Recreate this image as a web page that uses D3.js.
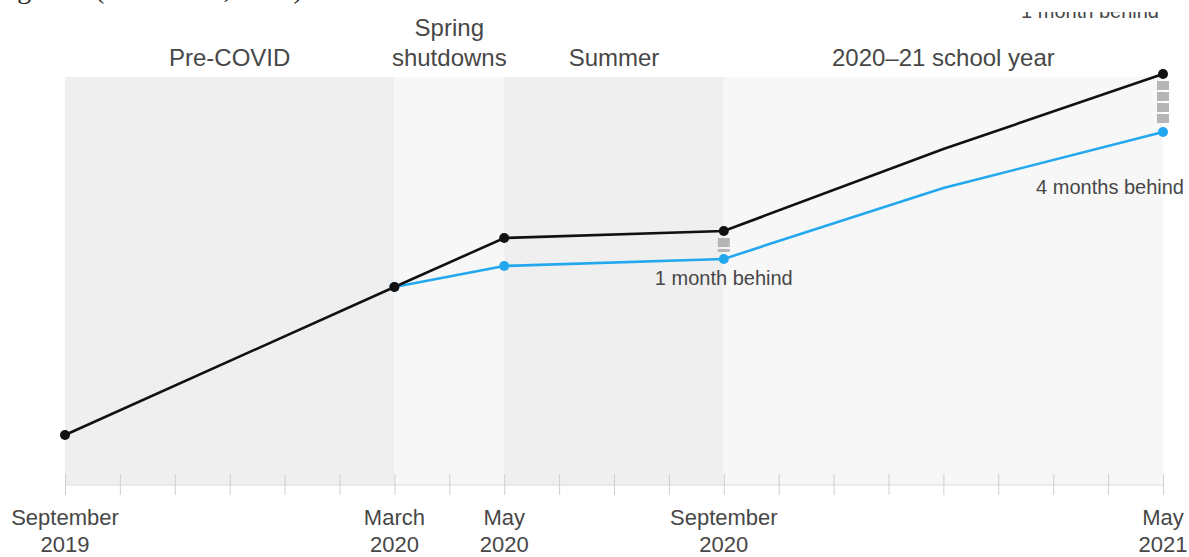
<!DOCTYPE html>
<html>
<head>
<meta charset="utf-8">
<script src="https://cdn.jsdelivr.net/npm/d3@7"></script>
<style>
  body { margin: 0; background: #fff; }
  svg { display: block; }
  text { font-family: "Liberation Sans", Arial, sans-serif; fill: #474747; }
</style>
</head>
<body>
<div class="chart"></div>
<script>
// months counted from September 2019 (0) to May 2021 (20)
const tickMonths = [0, 1, 2, 3, 4, 5, 6, 7, 8, 9, 10, 11, 12, 13, 14, 15, 16, 17, 18, 19, 20];
const labelMonths = [0, 6, 8, 12, 20];
const labelLines = [["September", "2019"], ["March", "2020"], ["May", "2020"], ["September", "2020"], ["May", "2021"]];

const periodNames = [["Pre-COVID"], ["Spring", "shutdowns"], ["Summer"], ["2020\u201321 school year"]];
const periodStart = [0, 6, 8, 12];
const periodEnd = [6, 8, 12, 20];

// achievement level (arbitrary units)
const baseMonths = [0, 6, 8, 12, 16, 20];
const baseValues = [50, 198, 247, 254, 336, 411];
const baseDots = [0, 6, 8, 12, 20];

const covidMonths = [6, 8, 12, 13, 16, 20];
const covidValues = [198, 219, 226, 244, 297, 353];
const covidDots = [6, 8, 12, 20];

const gapMonths = [12, 20];
const gapLabels = ["1 month behind", "4 months behind"];

const w = 1189, h = 557;
const x = d3.scaleLinear().domain([0, 20]).range([65, 1163]);
const y = d3.scaleLinear().domain([0, 420]).range([485, 65]);

const svg = d3.select('.chart').append('svg')
    .attr('width', w)
    .attr('height', h);

// caption cut off at the very top of the picture, only descenders show
svg.append('clipPath').attr('id', 'capcut')
    .append('rect').attr('x', 0).attr('y', 0).attr('width', 400).attr('height', 12);
svg.append('text')
    .attr('clip-path', 'url(#capcut)')
    .attr('x', -6).attr('y', -2)
    .style('font-family', '"Liberation Serif", "Times New Roman", serif')
    .style('font-size', '28px')
    .style('fill', '#222')
    .text('Figure 1 (Dorn et al., 2021)');

svg.append('clipPath').attr('id', 'topcut')
    .append('rect').attr('x', 900).attr('y', 12).attr('width', 289).attr('height', 10);
svg.append('text')
    .attr('clip-path', 'url(#topcut)')
    .attr('x', 1159).attr('y', 18)
    .attr('text-anchor', 'end')
    .style('font-size', '20px')
    .text('1 month behind');

// period bands
const bandColors = ['#efefef', '#f7f7f7', '#efefef', '#f7f7f7'];
svg.append('g')
    .selectAll('rect')
    .data(periodStart)
    .join('rect')
    .attr('x', (d, i) => x(d))
    .attr('width', (d, i) => x(periodEnd[i]) - x(d))
    .attr('y', 77)
    .attr('height', 485 - 77)
    .attr('fill', (d, i) => bandColors[i]);

const heads = svg.append('g')
    .selectAll('text')
    .data(periodNames)
    .join('text')
    .attr('text-anchor', 'middle')
    .attr('x', (d, i) => x((periodStart[i] + periodEnd[i]) / 2))
    .attr('y', d => 66 - (d.length - 1) * 30)
    .style('font-size', '24px');
heads.selectAll('tspan')
    .data(d => d)
    .join('tspan')
    .attr('x', function () { return this.parentNode.getAttribute('x'); })
    .attr('dy', (d, i) => i ? 30 : 0)
    .text(d => d);

// axis
const axis = svg.append('g').attr('transform', 'translate(0,485)')
    .call(d3.axisBottom(x).tickValues(tickMonths).tickSize(10).tickFormat(''));
axis.select('.domain').attr('stroke', '#dcdcdc').attr('d', `M${x(0)},0H${x(20)}`);
axis.selectAll('.tick line').attr('stroke', '#cfcfcf').attr('y1', -11);

const labels = svg.append('g')
    .selectAll('text')
    .data(labelLines)
    .join('text')
    .attr('text-anchor', 'middle')
    .attr('x', (d, i) => x(labelMonths[i]))
    .attr('y', 525)
    .style('font-size', '22px');
labels.selectAll('tspan')
    .data(d => d)
    .join('tspan')
    .attr('x', function () { return this.parentNode.getAttribute('x'); })
    .attr('dy', (d, i) => i ? 27 : 0)
    .text(d => d);

// gap markers
const baseAt = m => baseValues[baseMonths.indexOf(m)];
const covidAt = m => covidValues[covidMonths.indexOf(m)];
svg.append('g')
    .selectAll('line')
    .data(gapMonths)
    .join('line')
    .attr('x1', d => x(d)).attr('x2', d => x(d))
    .attr('y1', d => y(baseAt(d)) + 7)
    .attr('y2', d => y(covidAt(d)) - 7)
    .attr('stroke', '#b5b5b5')
    .attr('stroke-width', 12)
    .attr('stroke-dasharray', '9,2');

// lines
const line = d3.line().x(d => x(d[0])).y(d => y(d[1]));
svg.append('path')
    .datum(covidMonths.map((m, i) => [m, covidValues[i]]))
    .attr('d', line)
    .attr('fill', 'none')
    .attr('stroke', '#23a8ef')
    .attr('stroke-width', 2.6);
svg.append('path')
    .datum(baseMonths.map((m, i) => [m, baseValues[i]]))
    .attr('d', line)
    .attr('fill', 'none')
    .attr('stroke', '#111')
    .attr('stroke-width', 2.6);

svg.append('g')
    .selectAll('circle')
    .data(covidDots)
    .join('circle')
    .attr('cx', d => x(d)).attr('cy', d => y(covidAt(d)))
    .attr('r', 5)
    .attr('fill', '#23a8ef');
svg.append('g')
    .selectAll('circle')
    .data(baseDots)
    .join('circle')
    .attr('cx', d => x(d)).attr('cy', d => y(baseAt(d)))
    .attr('r', 5)
    .attr('fill', '#111');

// gap labels
svg.append('text')
    .attr('x', x(gapMonths[0])).attr('y', 285)
    .attr('text-anchor', 'middle')
    .style('font-size', '20px')
    .text(gapLabels[0]);
svg.append('text')
    .attr('x', 1184).attr('y', 194)
    .attr('text-anchor', 'end')
    .style('font-size', '20px')
    .text(gapLabels[1]);
</script>
</body>
</html>
